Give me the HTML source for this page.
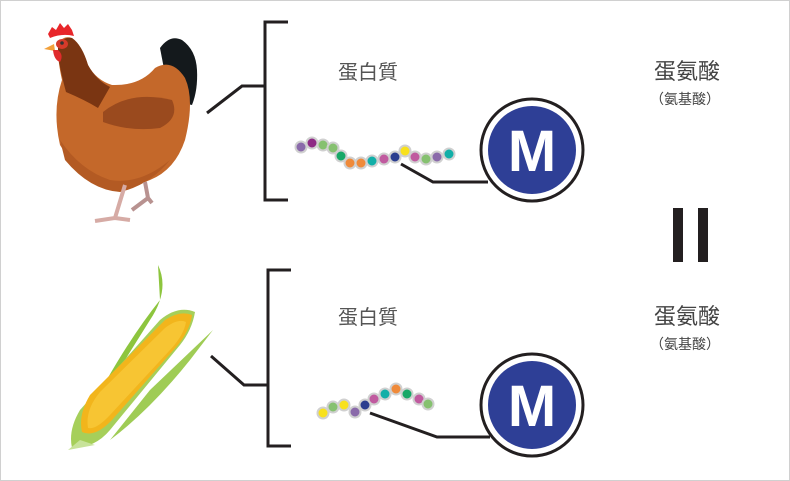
<!DOCTYPE html>
<html><head><meta charset="utf-8"><style>
html,body{margin:0;padding:0;background:#fff;}
svg{display:block;}
text{font-family:"Liberation Sans","Noto Sans CJK TC",sans-serif;}
</style></head><body>
<svg width="790" height="481" viewBox="0 0 790 481">
<rect x="0.5" y="0.5" width="789" height="480" fill="#fff" stroke="#d0d0d0"/>
<!-- chicken -->
<g>
<path d="M160,48 Q170,34 182,40 Q196,50 197,70 Q198,90 192,105 L170,100 Z" fill="#14191c"/>
<path d="M58,45 Q62,35 72,38 Q82,45 88,65 Q96,80 112,85 Q140,86 155,68 Q172,58 185,78 Q195,100 185,140 Q175,170 150,180 Q120,193 100,185 Q75,170 60,145 Q52,110 62,80 Q58,62 58,50 Z" fill="#c4682a"/>
<path d="M58,48 Q62,36 72,38 Q82,45 88,65 Q96,80 110,87 L98,108 Q85,100 66,92 Q60,70 58,55 Z" fill="#7a3512"/>
<path d="M103,112 Q130,90 172,100 Q180,118 160,128 Q130,132 103,122 Z" fill="#9a4a1e"/>
<path d="M60,140 Q80,170 110,180 Q140,185 170,160 Q150,185 120,192 Q90,190 65,160 Z" fill="#b35a23"/>
<path d="M48,34 L52,27 L56,30 L60,23 L64,28 L68,24 L72,30 L74,36 Q62,33 50,38 Z" fill="#e8262a"/>
<path d="M44,49 L54,44 L55,51 Z" fill="#f2a03a"/>
<ellipse cx="62" cy="44" rx="6" ry="5" fill="#d63a2a"/>
<path d="M53,50 Q54,60 60,62 Q64,55 58,50 Z" fill="#e02b2b"/>
<circle cx="62" cy="43" r="1.8" fill="#333"/>
<path d="M125,185 L115,218 L95,221 M115,218 L130,220" stroke="#d6aba5" stroke-width="4" fill="none"/>
<path d="M145,182 L148,198 L132,210 M148,198 L152,203" stroke="#b89290" stroke-width="4" fill="none"/>
</g>
<!-- corn -->
<g>
<path d="M158,265 Q170,290 150,320 L100,400 Q85,420 80,430 Q120,350 160,300 Z" fill="#8dc53e"/>
<path d="M72,448 Q68,430 80,410 L160,320 Q178,305 195,312 Q192,330 180,345 L110,430 Q95,448 72,448 Z" fill="#a6cf5a"/>
<path d="M82,432 Q78,415 90,395 L165,320 Q180,310 192,315 Q190,330 178,345 L112,420 Q95,438 82,432 Z" fill="#f2b51c"/>
<path d="M88,428 Q85,410 100,392 L165,328 Q178,318 186,322 Q184,335 170,350 L110,415 Q96,430 88,428 Z" fill="#f8c93a" opacity="0.8"/>
<path d="M213,330 L150,390 L110,440 Q150,410 190,360 Z" fill="#9fcc55"/>
<path d="M68,450 L80,440 L95,445 Z" fill="#c8e39a"/>
</g>
<!-- brackets -->
<g stroke="#231f20" stroke-width="3" fill="none">
<path d="M288,22 H265 V200 H288"/>
<path d="M207,113 L242,86 H265"/>
<path d="M291,270 H268 V446 H291"/>
<path d="M211,356 L244,385 H268"/>
<path d="M401,164 L433,182 H488"/>
<path d="M370,413 L437,437 H490"/>
</g>
<text x="338" y="79" font-size="20" fill="#555">蛋白質</text>
<text x="338" y="324" font-size="20" fill="#555">蛋白質</text>
<text x="654" y="79" font-size="22" fill="#444">蛋氨酸</text>
<text x="650" y="104" font-size="14" fill="#444">（氨基酸）</text>
<text x="654" y="324" font-size="22" fill="#444">蛋氨酸</text>
<text x="650" y="349" font-size="14" fill="#444">（氨基酸）</text>
<rect x="673" y="208" width="10" height="54" fill="#231f20"/>
<rect x="698" y="208" width="10" height="54" fill="#231f20"/>
<!-- M circles -->
<g>
<circle cx="532" cy="150" r="51" fill="#fff" stroke="#231f20" stroke-width="3"/>
<circle cx="532" cy="150" r="44" fill="#2e3f96"/>
<text x="532" y="171" font-size="58" font-weight="bold" fill="#fff" text-anchor="middle">M</text>
<circle cx="532" cy="405" r="51" fill="#fff" stroke="#231f20" stroke-width="3"/>
<circle cx="532" cy="405" r="44" fill="#2e3f96"/>
<text x="532" y="426" font-size="58" font-weight="bold" fill="#fff" text-anchor="middle">M</text>
</g>
<!-- beads -->
<g stroke="#d0d0d0" stroke-width="2">
<circle cx="301" cy="147" r="5.5" fill="#8a6aaa"/>
<circle cx="312" cy="143" r="5.5" fill="#8e2a85"/>
<circle cx="323" cy="145" r="5.5" fill="#86c170"/>
<circle cx="333" cy="148" r="5.5" fill="#86c170"/>
<circle cx="341" cy="156" r="5.5" fill="#17a867"/>
<circle cx="350" cy="163" r="5.5" fill="#ef8a3a"/>
<circle cx="361" cy="163" r="5.5" fill="#ef8a3a"/>
<circle cx="372" cy="161" r="5.5" fill="#12afa8"/>
<circle cx="384" cy="159" r="5.5" fill="#c05a9f"/>
<circle cx="395" cy="157" r="5.5" fill="#2a3d8f"/>
<circle cx="405" cy="151" r="5.5" fill="#f8e11c"/>
<circle cx="415" cy="157" r="5.5" fill="#c05a9f"/>
<circle cx="426" cy="159" r="5.5" fill="#86c170"/>
<circle cx="437" cy="157" r="5.5" fill="#8a6aaa"/>
<circle cx="449" cy="154" r="5.5" fill="#12afa8"/>
<circle cx="323" cy="413" r="5.5" fill="#f8e11c"/>
<circle cx="333" cy="407" r="5.5" fill="#86c170"/>
<circle cx="344" cy="405" r="5.5" fill="#f8e11c"/>
<circle cx="355" cy="412" r="5.5" fill="#8a6aaa"/>
<circle cx="365" cy="405" r="5.5" fill="#2a3d8f"/>
<circle cx="374" cy="399" r="5.5" fill="#c05a9f"/>
<circle cx="385" cy="394" r="5.5" fill="#12afa8"/>
<circle cx="396" cy="389" r="5.5" fill="#ef8a3a"/>
<circle cx="407" cy="394" r="5.5" fill="#17a867"/>
<circle cx="419" cy="399" r="5.5" fill="#c05a9f"/>
<circle cx="428" cy="404" r="5.5" fill="#86c170"/>
</g>
</svg>
</body></html>
